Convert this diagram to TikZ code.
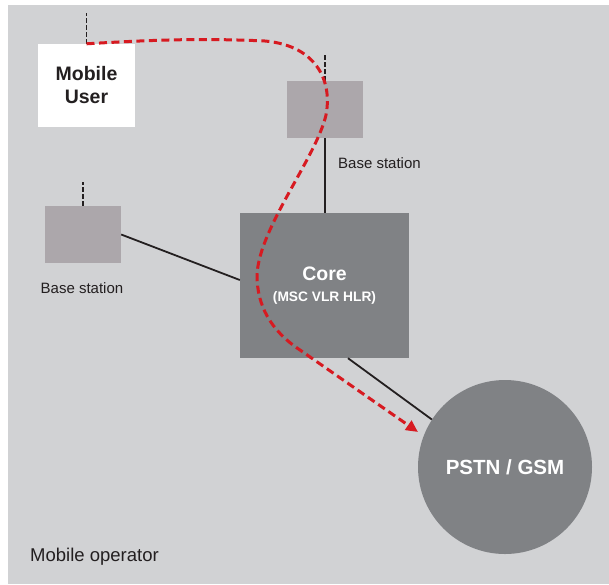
\documentclass[tikz,border=0pt]{standalone}
\usepackage{fontspec}
\setmainfont{Liberation Sans}
\usetikzlibrary{arrows.meta,calc}
\definecolor{bgc}{HTML}{D1D2D4}
\definecolor{bsc}{HTML}{ACA7AB}
\definecolor{corec}{HTML}{808285}
\definecolor{redc}{HTML}{D71A21}
\definecolor{linec}{HTML}{231F20}
\begin{document}
\begin{tikzpicture}[x=1pt,y=-1pt,
  userbox/.style={fill=white,minimum width=97pt,minimum height=83pt,inner sep=0pt,align=center,font=\bfseries\fontsize{19.5}{23}\selectfont,text=linec},
  bsbox/.style={fill=bsc,minimum width=76pt,minimum height=57pt,inner sep=0pt},
  corebox/.style={fill=corec,minimum width=169pt,minimum height=145pt,inner sep=0pt,align=center,text=white,font=\bfseries\fontsize{13.75}{21}\selectfont},
  netcircle/.style={circle,fill=corec,minimum size=174pt,inner sep=0pt,text=white,font=\bfseries\fontsize{20.5}{24}\selectfont},
  bslabel/.style={font=\fontsize{15}{18}\selectfont,text=linec,inner sep=0pt},
  antenna/.style={draw=linec,line width=1.8pt,dash pattern=on 5pt off 2pt},
  link/.style={draw=linec,line width=1.8pt},
  callpath/.style={draw=redc,line width=3pt,dash pattern=on 8pt off 4.5pt,-{Triangle[length=12pt,width=11pt]}}
]
\useasboundingbox (0,0) rectangle (609,584);
\fill[bgc] (8,5) rectangle (609,584);

\node[userbox] (mu) at (86.5,85.5) {Mobile\\User};
\node[bsbox] (bs1) at (325,109.5) {};
\node[bsbox] (bs2) at (83,234.5) {};
\node[corebox] (core) at (324.5,285.5) {{\fontsize{19.5}{21}\selectfont Core}\\(MSC VLR HLR)};
\node[netcircle] (pstn) at (505,467) {PSTN / GSM};

\node[bslabel,anchor=west] (bs1lab) at (338,163) {Base station};
\node[bslabel] (bs2lab) at (82,288) {Base station};
\node[font=\fontsize{18.5}{22}\selectfont,text=linec,inner sep=0pt,anchor=west] (oplab) at (30,557) {Mobile operator};

% antennas
\draw[antenna] (mu.north) -- ++(0,-31);
\draw[antenna] (bs1.north) -- ++(0,-27);
\draw[antenna] (bs2.north) -- ++(0,-24);

% links
\draw[link] (bs1.south) -- (bs1.south |- core.north);
\draw[link] (bs2.east) -- ([yshift=5.5pt]core.west);
\draw[link] ([xshift=23.5pt]core.south) -- (pstn.147);

% call path
\coordinate (tip) at (418,432);
\draw[callpath] (mu.north) .. controls (150,40) and (200,38) .. (265,41)
  .. controls (320,46) and (332,85) .. (326,115)
  .. controls (316,158) and (259,228) .. (257,275)
  .. controls (257,305) and (270,330) .. (300,350)
  -- (tip);
\end{tikzpicture}
\end{document}
